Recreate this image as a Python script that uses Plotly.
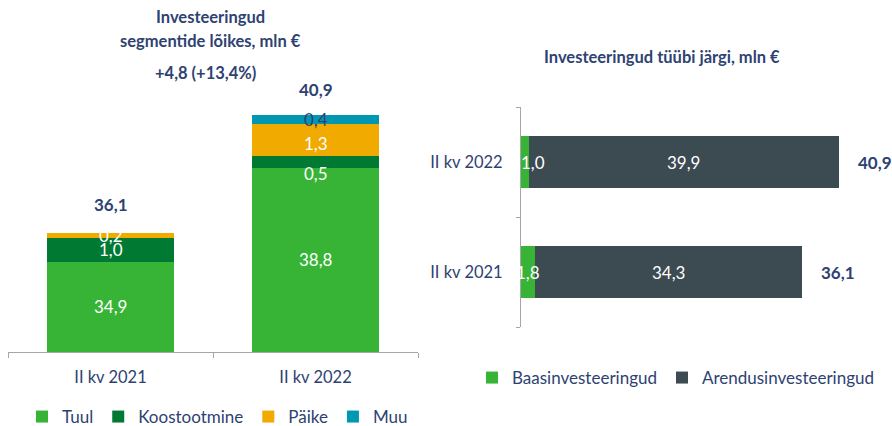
import plotly.graph_objects as go

# ---------------- data ----------------
periods = ["II kv 2021", "II kv 2022"]
segments = ["Tuul", "Koostootmine", "Päike", "Muu"]
tuul = [34.9, 38.8]
koostootmine = [1.0, 0.5]
paike = [0.2, 1.3]
muu = [0.0, 0.4]
seg_values = [tuul, koostootmine, paike, muu]
seg_totals = [36.1, 40.9]
seg_labels = [["34,9", "38,8"], ["1,0", "0,5"], ["0,2", "1,3"], ["", "0,4"]]
change_label = "+4,8 (+13,4%)"

types = ["Baasinvesteeringud", "Arendusinvesteeringud"]
baas = [1.8, 1.0]
arendus = [34.3, 39.9]
type_values = [baas, arendus]
type_totals = [36.1, 40.9]
type_labels = [["1,8", "1,0"], ["34,3", "39,9"]]
total_labels = ["36,1", "40,9"]

# ---------------- style ----------------
FONT = "Lato"
NAVY = "#2E4272"
AXIS = "#A6A6A6"
seg_colors = ["#37B336", "#007A33", "#F0AA00", "#0097B2"]
type_colors = ["#37B336", "#3C4A52"]
Y0 = 31.15  # left axis floor
W, H = 892, 426
FS = 17

fig = go.Figure()

for name, vals, col in zip(segments, seg_values, seg_colors):
    fig.add_trace(go.Bar(
        x=periods, y=vals, name=name, marker=dict(color=col, line=dict(width=0)),
        width=0.624, xaxis="x", yaxis="y", legend="legend", hoverinfo="skip"))

for name, vals, col in zip(types, type_values, type_colors):
    fig.add_trace(go.Bar(
        y=periods, x=vals, name=name, orientation="h",
        marker=dict(color=col, line=dict(width=0)),
        width=0.48, xaxis="x2", yaxis="y2", legend="legend2", hoverinfo="skip"))

ann = []
# segment labels (left)
label_shift = {(1, 1): -12, (2, 1): -4}
for j in range(len(periods)):
    base = 0.0
    for i, vals in enumerate(seg_values):
        v = vals[j]
        lo, hi = max(base, Y0), base + v
        txt = seg_labels[i][j]
        if txt:
            ann.append(dict(x=periods[j], y=(lo + hi) / 2, xref="x", yref="y", text=txt,
                            showarrow=False, yshift=label_shift.get((i, j), 0),
                            font=dict(family=FONT, size=FS,
                                      color=NAVY if i == 3 else "white")))
        base += v
    ann.append(dict(x=periods[j], y=seg_totals[j], xref="x", yref="y",
                    text="<b>%s</b>" % total_labels[j], showarrow=False, yshift=28,
                    font=dict(family=FONT, size=FS, color=NAVY)))

# type labels (right)
for j in range(len(periods)):
    base = 0.0
    for i, vals in enumerate(type_values):
        v = vals[j]
        ann.append(dict(x=base + v / 2, y=periods[j], xref="x2", yref="y2",
                        text=type_labels[i][j], showarrow=False,
                        xshift=(8 if (i == 0 and j == 1) else 0),
                        font=dict(family=FONT, size=FS, color="white")))
        base += v
    ann.append(dict(x=type_totals[j], y=periods[j], xref="x2", yref="y2",
                    text="<b>%s</b>" % total_labels[j], showarrow=False,
                    xanchor="left", xshift=17,
                    font=dict(family=FONT, size=FS, color=NAVY)))

# titles
def title(text, x, y):
    return dict(x=x / W, y=1 - y / H, xref="paper", yref="paper",
                text="<b>%s</b>" % text, showarrow=False, xanchor="center",
                yanchor="middle", font=dict(family=FONT, size=16.5, color=NAVY))

ann += [
    title("Investeeringud", 210, 17),
    title("segmentide lõikes, mln €", 210, 41),
    title(change_label, 205, 73),
    title("Investeeringud tüübi järgi, mln €", 662, 57),
]

ytop = Y0 + (352 - 20) / 24.1
fig.update_layout(
    width=W, height=H, margin=dict(l=0, r=0, t=0, b=0, autoexpand=False),
    paper_bgcolor="white", plot_bgcolor="white",
    barmode="stack", annotations=ann,
    font=dict(family=FONT, color=NAVY),
    xaxis=dict(domain=[8 / W, 418 / W], range=[-0.5, 1.5], showline=True,
               linecolor=AXIS, linewidth=1, ticks="outside", tickson="boundaries",
               tickcolor=AXIS, ticklen=5, showgrid=False, zeroline=False,
               tickfont=dict(family=FONT, size=16.5, color=NAVY), ticklabelstandoff=10,
               fixedrange=True, automargin=False),
    yaxis=dict(domain=[(H - 352) / H, (H - 20) / H], range=[Y0, ytop], visible=False,
               fixedrange=True),
    xaxis2=dict(domain=[521 / W, 1.0], range=[0, (W - 521) / 7.77], visible=False,
                anchor="y2", fixedrange=True),
    yaxis2=dict(domain=[(H - 327) / H, (H - 107) / H], range=[-0.5, 1.5], anchor="x2",
                showline=True, linecolor=AXIS, linewidth=1, ticks="outside",
                tickson="boundaries", tickcolor=AXIS, ticklen=4, showgrid=False,
                zeroline=False, tickfont=dict(family=FONT, size=16.5, color=NAVY),
                ticklabelstandoff=14, fixedrange=True, automargin=False),
    legend=dict(orientation="h", x=22 / W, y=1 - 417 / H, xanchor="left",
                yanchor="middle", font=dict(family=FONT, size=FS, color=NAVY),
                itemwidth=30, bgcolor="rgba(0,0,0,0)", traceorder="normal"),
    legend2=dict(orientation="h", x=472 / W, y=1 - 378 / H, xanchor="left",
                 yanchor="middle", font=dict(family=FONT, size=FS, color=NAVY),
                 itemwidth=30, bgcolor="rgba(0,0,0,0)", traceorder="normal"),
    showlegend=True,
)

fig.write_html("out.html", config={"displayModeBar": False},
               post_script="document.body.style.margin='0';")
